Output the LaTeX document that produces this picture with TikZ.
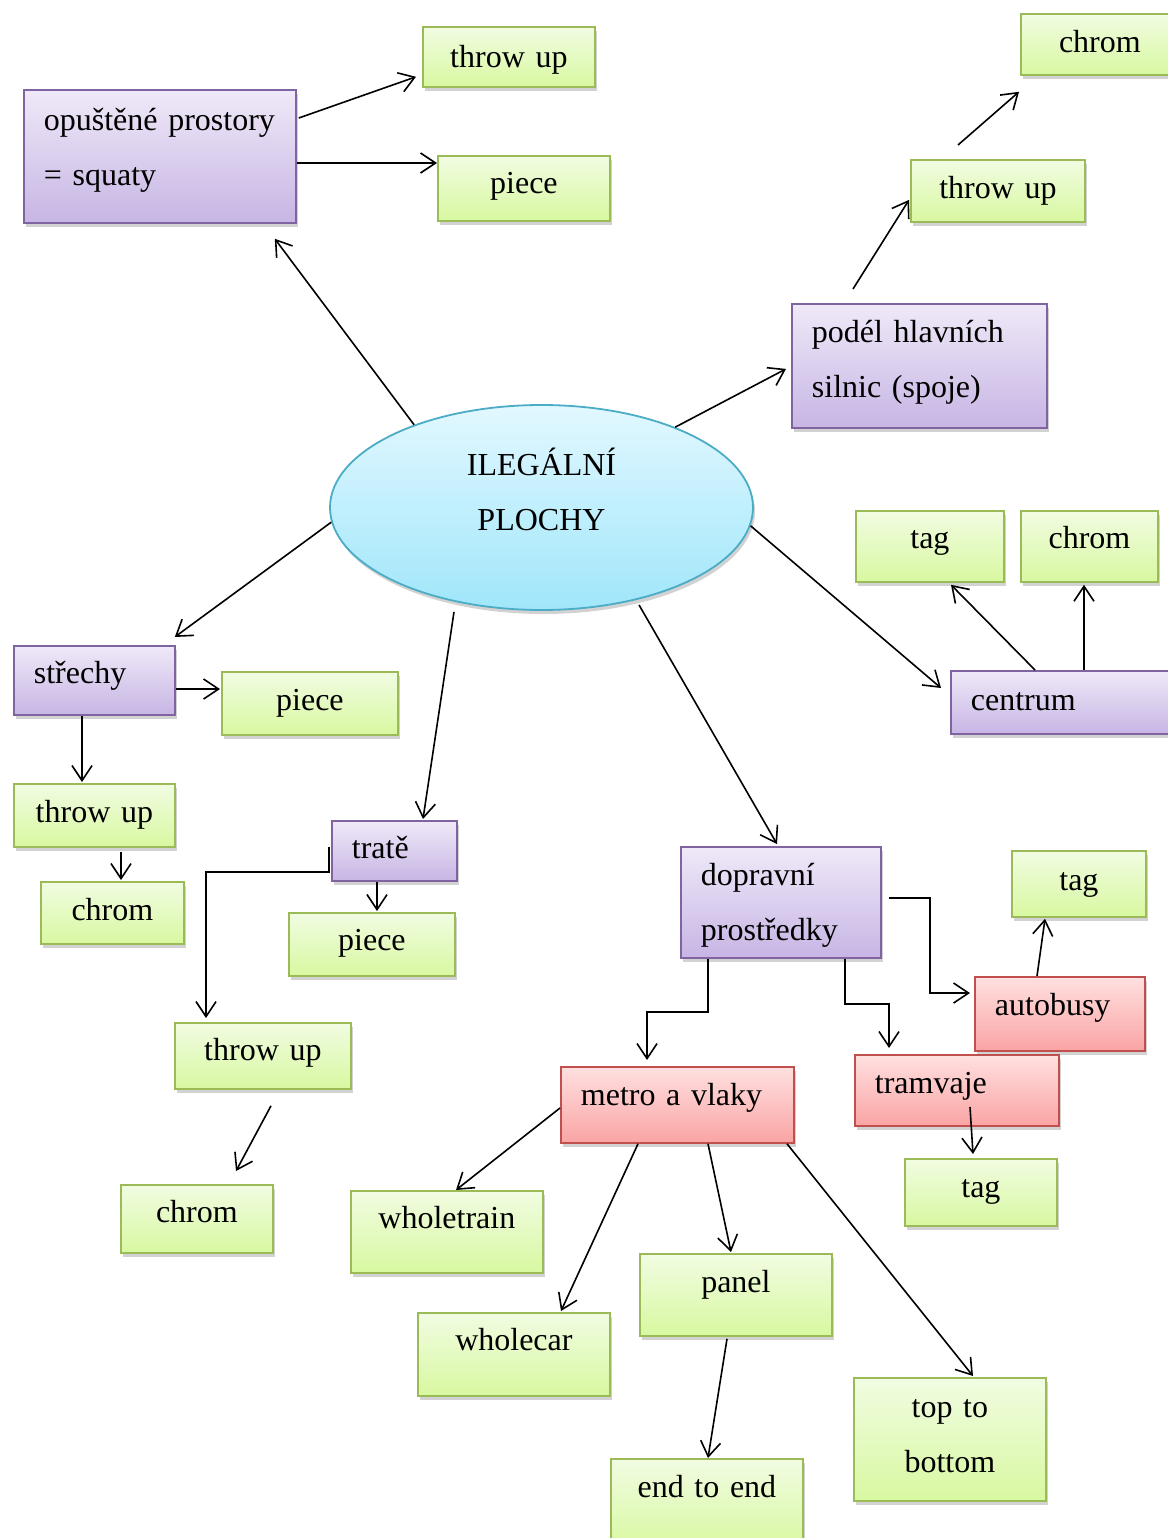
\documentclass[tikz,border=0pt]{standalone}
\usepackage{fontspec}
\setmainfont{Liberation Serif}
\usetikzlibrary{calc,shapes.geometric,shadows,arrows.meta}

\definecolor{grnline}{RGB}{155,187,89}
\definecolor{grntop}{RGB}{241,252,226}
\definecolor{grnbot}{RGB}{216,248,160}
\definecolor{purline}{RGB}{128,100,162}
\definecolor{purtop}{RGB}{239,233,248}
\definecolor{purbot}{RGB}{199,181,228}
\definecolor{redline}{RGB}{192,80,77}
\definecolor{redtop}{RGB}{255,224,224}
\definecolor{redbot}{RGB}{250,164,164}
\definecolor{bluline}{RGB}{75,172,198}
\definecolor{blutop}{RGB}{226,248,255}
\definecolor{blubot}{RGB}{160,230,250}

\newcommand{\mapfont}{\fontsize{32}{55}\selectfont\spaceskip=8pt plus 1pt minus 1pt\relax}

\begin{document}
\begin{tikzpicture}[
            x=1pt, y=-1pt,
            font=\mapfont,
            >={Straight Barb[length=15pt,width=20pt]},
            link/.style={->, line width=1.6pt},
            box node/.style={anchor=north west, rectangle, line width=1.8pt,
                inner xsep=20pt, inner ysep=0pt,
                drop shadow={shadow xshift=2pt, shadow yshift=-4pt, opacity=0.25, fill=black!70}},
            green node/.style={box node, draw=grnline, top color=grntop, bottom color=grnbot, align=center},
            purple node/.style={box node, draw=purline, top color=purtop, bottom color=purbot, align=left},
            red node/.style={box node, draw=redline, top color=redtop, bottom color=redbot, align=left},
            main node/.style={ellipse, draw=bluline, line width=1.8pt, top color=blutop, bottom color=blubot,
                minimum width=423pt, minimum height=205pt, inner sep=0pt, align=center,
                drop shadow={shadow xshift=2pt, shadow yshift=-4pt, opacity=0.25, fill=black!70}}]
    \useasboundingbox (0,0) rectangle (1167,1538);
            % centre
    \node[main node, text height=75, text depth=30] (P) at (541.5,507.5) {ILEGÁLNÍ\\PLOCHY};
            % squaty
    \node[purple node, text width=232, text height=41, text depth=92] (sq) at (23,89) {opuštěné prostory\\= squaty};
    \node[green node, text width=132, text height=41, text depth=19] (sqT) at (422,26) {throw up};
    \node[green node, text width=132, text height=38, text depth=27] (sqP) at (437,155) {piece};
            % silnice
    \node[purple node, text width=215, text height=39, text depth=85] (si) at (791,303) {podél hlavních\\silnic (spoje)};
    \node[green node, text width=134, text height=39, text depth=23] (siT) at (910,159) {throw up};
    \node[green node, text width=118, text height=39, text depth=22] (siC) at (1020,13) {chrom};
            % centrum
    \node[purple node, text width=200, text height=40, text depth=23] (ce) at (950,670) {centrum};
    \node[green node, text width=108, text height=38, text depth=33] (ceT) at (855,510) {tag};
    \node[green node, text width=97, text height=38, text depth=33] (ceC) at (1020,510) {chrom};
            % strechy
    \node[purple node, text width=121, text height=38, text depth=31] (st) at (13,645) {střechy};
    \node[green node, text width=136, text height=39, text depth=24] (stP) at (221,671) {piece};
    \node[green node, text width=121, text height=39, text depth=24] (stT) at (13,783) {throw up};
    \node[green node, text width=103, text height=39, text depth=23] (stC) at (40,881) {chrom};
            % trate
    \node[purple node, text width=85, text height=38, text depth=22] (tr) at (331,820) {tratě};
    \node[green node, text width=126, text height=38, text depth=25] (trP) at (288,912) {piece};
    \node[green node, text width=136, text height=38, text depth=28] (trT) at (174,1022) {throw up};
    \node[green node, text width=112, text height=38, text depth=30] (trC) at (120,1184) {chrom};
            % doprava
    \node[purple node, text width=160, text height=39, text depth=72] (dp) at (680,846) {dopravní\\prostředky};
    \node[red node, text width=130, text height=39, text depth=35] (au) at (974,976) {autobusy};
    \node[green node, text width=94, text height=40, text depth=26] (auT) at (1011,850) {tag};
    \node[red node, text width=164, text height=39, text depth=32] (tm) at (854,1054) {tramvaje};
    \node[green node, text width=112, text height=39, text depth=28] (tmT) at (904,1158) {tag};
    \node[red node, text width=193, text height=39, text depth=37] (me) at (560,1066) {metro a vlaky};
    \node[green node, text width=152, text height=38, text depth=44] (wt) at (350,1190) {wholetrain};
    \node[green node, text width=152, text height=38, text depth=45] (wc) at (417,1312) {wholecar};
    \node[green node, text width=152, text height=39, text depth=43] (pa) at (639,1253) {panel};
    \node[green node, text width=152, text height=39, text depth=51] (ee) at (610,1458) {end to end};
    \node[green node, text width=152, text height=40, text depth=83] (tb) at (853,1377) {top to\\bottom};
            % connectors
    \draw[link] (P.147) -- ($(sq.south east)+(-22,15)$);
    \draw[link] ($(sq.north east)+(2,29)$) -- ($(sqT.south west)+(-6,-11)$);
    \draw[link] ($(sq.north east)+(0,74)$) -- ($(sqP.north west)+(0,8)$);
    \draw[link] (P.31) -- ($(si.west)+(-5,3)$);
    \draw[link] ($(si.north west)+(62,-14)$) -- ($(siT.west)+(-1,9)$);
    \draw[link] ($(siT.north west)+(48,-14)$) -- ($(siC.south west)+(-1,16)$);
    \draw[link] (P.-5) -- ($(ce.north west)+(-9,18)$);
    \draw[link] ($(ce.north west)+(85,0)$) -- ($(ceT.south west)+(96,2)$);
    \draw[link] ($(ce.north west)+(134,0)$) -- ($(ceC.south west)+(64,2)$);
    \draw[link] (P.184) -- ($(st.north east)+(-1,-8)$);
    \draw[link] ($(st.north east)+(0,44)$) -- ($(stP.north west)+(-1,18)$);
    \draw[link] ($(st.south west)+(69,0)$) -- ($(stT.north west)+(69,-1)$);
    \draw[link] ($(stT.south west)+(108,4)$) -- ($(stC.north west)+(81,-1)$);
    \draw[link] ($(P.south)+(-87.5,1)$) -- ($(tr.north west)+(92,-1)$);
    \draw[link] ($(tr.south west)+(46,0)$) -- ($(trP.north west)+(89,-1)$);
    \draw[link] ($(tr.north west)+(-2,27)$) -- ++(0,25) -| ($(trT.north west)+(32,-4)$);
    \draw[link] ($(trT.south west)+(97,16)$) -- ($(trC.north west)+(116,-13)$);
    \draw[link] ($(P.south)+(97.5,-6)$) -- ($(dp.north west)+(97,-2)$);
    \draw[link] ($(dp.north east)+(7,52)$) -- ++(41,0) |- ($(au.north west)+(-4,17)$);
    \draw[link] ($(dp.south east)+(-37,0)$) -- ++(0,45) -| ($(tm.north west)+(35,-6)$);
    \draw[link] ($(dp.south west)+(28,0)$) -- ++(0,53) -| ($(me.north west)+(87,-6)$);
    \draw[link] ($(au.north west)+(63,0)$) -- ($(auT.south west)+(34,1)$);
    \draw[link] ($(tm.north west)+(116,53)$) -- ($(tmT.north west)+(69,-4)$);
    \draw[link] ($(me.north west)+(0,42)$) -- ($(wt.north west)+(106,0)$);
    \draw[link] ($(me.south west)+(78,0)$) -- ($(wc.north west)+(144,-1)$);
    \draw[link] ($(me.south west)+(148,0)$) -- ($(pa.north west)+(92,-1)$);
    \draw[link] ($(me.south west)+(227,0)$) -- ($(tb.north west)+(120,-1)$);
    \draw[link] ($(pa.south west)+(88,2)$) -- ($(ee.north west)+(98,0)$);
\end{tikzpicture}
\end{document}
